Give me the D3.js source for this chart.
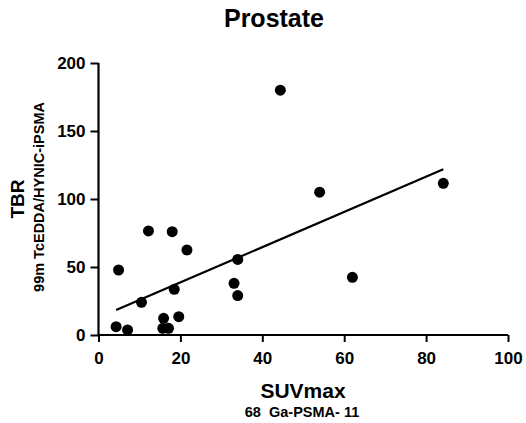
<!DOCTYPE html>
<html>
<head>
<meta charset="utf-8">
<script src="https://cdn.jsdelivr.net/npm/d3@7"></script>
<style>
    body { margin: 0; background: #fff; }
    text { font-family: Arial, "Liberation Sans", sans-serif; font-weight: bold; fill: #000; }
</style>
</head>
<body>
<svg id="chart" width="526" height="423"></svg>
<script>
    // 数据
    const suvmax = [4.3, 7.1, 4.9, 10.5, 12.2, 18.0, 21.6, 18.5, 15.9, 15.7, 17.1, 19.6, 33.1, 34.0, 34.0, 44.4, 54.0, 62.0, 84.2];
    const tbr = [6.1, 3.7, 47.8, 24.0, 76.5, 76.0, 62.5, 33.6, 12.3, 4.9, 4.9, 13.5, 38.0, 29.0, 55.6, 180.0, 105.0, 42.4, 111.5];

    // 回归线端点
    const fitX = [4.3, 84.2];
    const fitY = [18.4, 121.8];

    const xTicks = [0, 20, 40, 60, 80, 100];
    const yTicks = [0, 50, 100, 150, 200];

    const svg = d3.select('#chart');
    const plotLeft = 98.5, plotRight = 508, plotTop = 63, plotBottom = 335;

    const x = d3.scaleLinear().domain([0, 100]).range([plotLeft, plotRight]);
    const y = d3.scaleLinear().domain([0, 200]).range([plotBottom, plotTop]);

    // 坐标轴
    const xAxis = svg.append('g')
        .attr('transform', `translate(0,${plotBottom})`)
        .call(d3.axisBottom(x).tickValues(xTicks).tickSize(7).tickPadding(10).tickFormat(d3.format('d')));
    const yAxis = svg.append('g')
        .attr('transform', `translate(${plotLeft},0)`)
        .call(d3.axisLeft(y).tickValues(yTicks).tickSize(8).tickPadding(5).tickFormat(d3.format('d')));

    [xAxis, yAxis].forEach(g => {
        g.select('.domain').attr('stroke', '#000').attr('stroke-width', 2.2);
        g.selectAll('.tick line').attr('stroke', '#000').attr('stroke-width', 2);
        g.selectAll('.tick text')
            .attr('font-size', 17)
            .attr('font-family', 'Arial, "Liberation Sans", sans-serif')
            .attr('font-weight', 'bold')
            .attr('fill', '#000');
    });
    xAxis.select('.domain').attr('d', `M${plotLeft},0H${plotRight}`);
    yAxis.select('.domain').attr('d', `M0,${plotBottom}V${plotTop}`);

    // 回归线
    const fit = fitX.map((v, i) => [v, fitY[i]]);
    svg.append('path')
        .datum(fit)
        .attr('fill', 'none')
        .attr('stroke', '#000')
        .attr('stroke-width', 2.2)
        .attr('d', d3.line().x(d => x(d[0])).y(d => y(d[1])));

    // 散点
    const points = suvmax.map((v, i) => ({ x: v, y: tbr[i] }));
    svg.selectAll('.dot')
        .data(points)
        .enter().append('circle')
        .attr('class', 'dot')
        .attr('cx', d => x(d.x))
        .attr('cy', d => y(d.y))
        .attr('r', 5.5)
        .attr('fill', '#000');

    // 标题
    svg.append('text')
        .attr('x', 274).attr('y', 27)
        .attr('text-anchor', 'middle')
        .attr('font-size', 25)
        .text('Prostate');

    svg.append('text')
        .attr('x', 303).attr('y', 398)
        .attr('text-anchor', 'middle')
        .attr('font-size', 21)
        .text('SUVmax');

    svg.append('text')
        .attr('x', 302).attr('y', 417)
        .attr('text-anchor', 'middle')
        .attr('font-size', 14.5)
        .attr('xml:space', 'preserve')
        .text('68  Ga-PSMA- 11');

    svg.append('text')
        .attr('transform', 'translate(24,199) rotate(-90)')
        .attr('text-anchor', 'middle')
        .attr('font-size', 19)
        .text('TBR');

    svg.append('text')
        .attr('transform', 'translate(44,197) rotate(-90)')
        .attr('text-anchor', 'middle')
        .attr('font-size', 14.5)
        .text('99m TcEDDA/HYNIC-iPSMA');
</script>
</body>
</html>
